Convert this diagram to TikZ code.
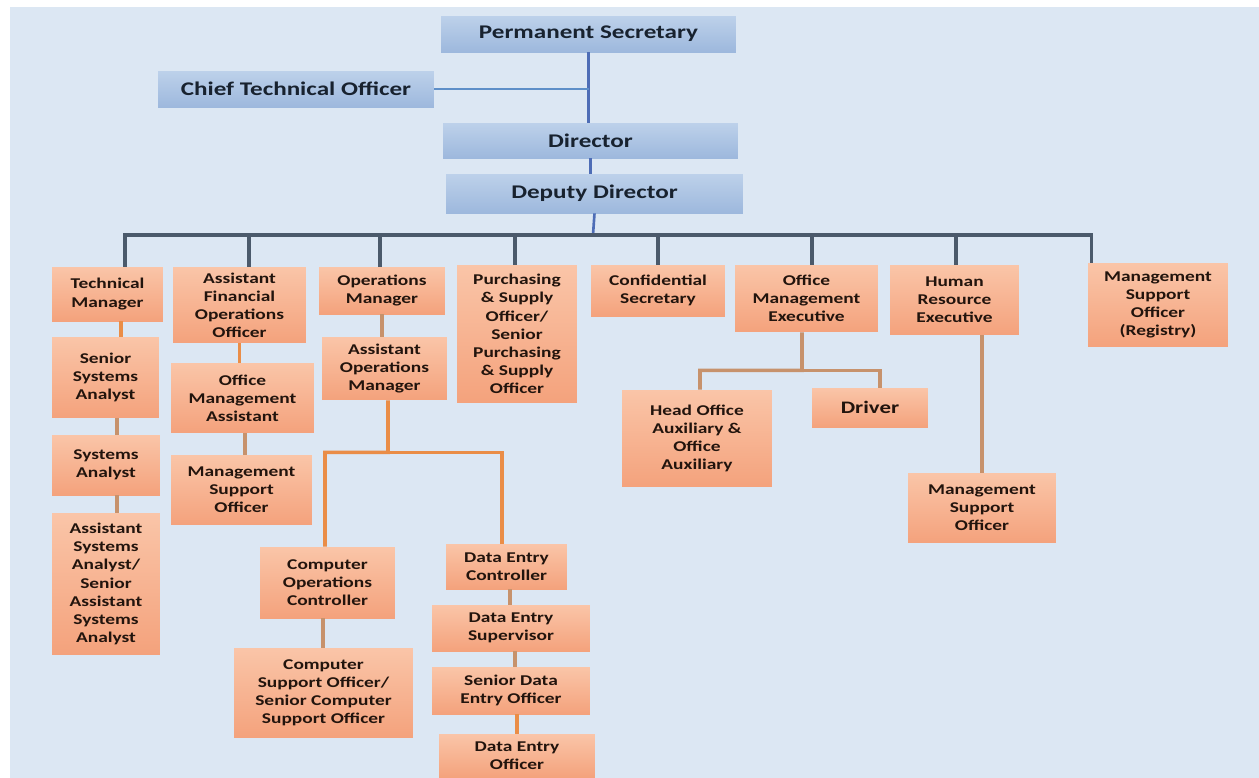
\documentclass[tikz,border=0pt]{standalone}
\usepackage{fontspec}
\setmainfont{Carlito}[FakeStretch=1.3]
\usetikzlibrary{positioning, calc}

\definecolor{bgblue}{HTML}{DCE7F3}
\definecolor{bluetop}{HTML}{BDD1EA}
\definecolor{bluebot}{HTML}{9DB8DD}
\definecolor{bluetxt}{HTML}{18222F}
\definecolor{orgtop}{HTML}{FAC5A8}
\definecolor{orgbot}{HTML}{F4A27C}
\definecolor{orgtxt}{HTML}{22140D}
\definecolor{lineblue}{HTML}{4E6DB6}
\definecolor{linesky}{HTML}{5E8FC8}
\definecolor{busgray}{HTML}{4B5A6B}
\definecolor{lineorange}{HTML}{EA8D47}
\definecolor{linetan}{HTML}{C7926C}

\begin{document}
\begin{tikzpicture}[
    x=0.02cm, y=-0.02cm,
    sz/.style 2 args={minimum width=#1cm, minimum height=#2cm},
    bbox/.style={top color=bluetop, bottom color=bluebot, text=bluetxt, inner sep=0pt,
        font=\fontsize{11}{13}\selectfont\bfseries},
    obox/.style={top color=orgtop, bottom color=orgbot, text=orgtxt, inner sep=0pt,
        align=center, font=\fontsize{8.5}{10.3}\selectfont\bfseries},
    topline/.style={draw=lineblue, line width=1.5pt},
    ctoline/.style={draw=linesky, line width=1.2pt},
    busline/.style={draw=busgray, line width=1.9pt},
    orline/.style={draw=lineorange, line width=2pt},
    tanline/.style={draw=linetan, line width=2pt}
]
\useasboundingbox (0,0) rectangle (1259,778);

% -- background --------------------------------------------------
\fill[white] (0,0) rectangle (1259,778);
\fill[bgblue] (10,7) rectangle (1259,778);

% -- top of the chart --------------------------------------------
\node[bbox, sz={5.9}{0.72}]  (ps)  at (588.5,34)  {Permanent Secretary};
\node[bbox, sz={5.52}{0.72}] (cto) at (296,89)    {Chief Technical Officer};
\node[bbox, sz={5.9}{0.70}]  (dir) at (590.5,140.5) {Director};
\node[bbox, sz={5.94}{0.78}] (dd)  at (594.5,193.5) {Deputy Director};

% -- second row ----------------------------------------------------
\node[obox, sz={2.22}{1.08}] (tm)   at (107.5,294) {Technical\\Manager};
\node[obox, sz={2.66}{1.52}] (afoo) at (239.5,305) {Assistant\\Financial\\Operations\\Officer};
\node[obox, sz={2.52}{0.94}] (opm)  at (382,290.5) {Operations\\Manager};
\node[obox, sz={2.4}{2.76}]  (psso) at (517,334)   {Purchasing\\\& Supply\\Officer/\\Senior\\Purchasing\\\& Supply\\Officer};
\node[obox, sz={2.68}{1.02}] (cs)   at (658,290.5) {Confidential\\Secretary};
\node[obox, sz={2.86}{1.34}] (ome)  at (806.5,298.5) {Office\\Management\\Executive};
\node[obox, sz={2.58}{1.40}] (hre)  at (954.5,300) {Human\\Resource\\Executive};
\node[obox, sz={2.8}{1.68}]  (msor) at (1158,305)  {Management\\Support\\Officer\\(Registry)};

% -- technical column ----------------------------------------------
\node[obox, sz={2.14}{1.62}] (ssa) at (105.5,377.5) {Senior\\Systems\\Analyst};
\node[obox, sz={2.16}{1.2}]  (sa)  at (106,465)     {Systems\\Analyst};
\node[obox, sz={2.16}{2.84}] (asa) at (106,584)     {Assistant\\Systems\\Analyst/\\Senior\\Assistant\\Systems\\Analyst};

% -- finance column ------------------------------------------------
\node[obox, sz={2.86}{1.4}] (oma)  at (242.5,398) {Office\\Management\\Assistant};
\node[obox, sz={2.82}{1.4}] (mso1) at (241.5,490) {Management\\Support\\Officer};

% -- operations column ---------------------------------------------
\node[obox, sz={2.5}{1.26}]  (aom)  at (384.5,368.5) {Assistant\\Operations\\Manager};
\node[obox, sz={2.7}{1.42}]  (coc)  at (327.5,582.5) {Computer\\Operations\\Controller};
\node[obox, sz={3.58}{1.8}]  (cso)  at (323.5,693)   {Computer\\Support Officer/\\Senior Computer\\Support Officer};
\node[obox, sz={2.42}{0.9}]  (dec)  at (506.5,566.5) {Data Entry\\Controller};
\node[obox, sz={3.16}{0.92}] (des)  at (511,628)     {Data Entry\\Supervisor};
\node[obox, sz={3.16}{0.94}] (sdeo) at (511,690.5)   {Senior Data\\Entry Officer};
\node[obox, sz={3.12}{0.88}] (deo)  at (517,756)     {Data Entry\\Officer};

% -- office management and HR --------------------------------------
\node[obox, sz={3.0}{1.94}] (hoa)  at (697,438.5) {Head Office\\Auxiliary \&\\Office\\Auxiliary};
\node[obox, sz={2.32}{0.78}, font=\fontsize{10}{12}\selectfont\bfseries] (drv) at (870,407.5) {Driver};
\node[obox, sz={2.96}{1.4}] (mso2) at (982,508)   {Management\\Support\\Officer};

% -- top connectors ------------------------------------------------
\draw[topline] (ps.south) -- (ps.south |- dir.north);
\draw[ctoline] (cto.east) -- (cto.east -| ps.south);
\draw[topline] (dir.south) -- (dir.south |- dd.north);

% -- bus under the deputy director ---------------------------------
\coordinate (bus) at (593,235);
\draw[topline] (dd.south) -- (bus);
\draw[busline] (bus) -| ([xshift=0.35cm]tm.north);
\draw[busline] (bus) -| ([xshift=0.08cm]msor.north west);
\foreach \n/\dx in {afoo/0.19, opm/-0.04, psso/-0.04, cs/0, ome/0.11, hre/0.03}
    \draw[busline] (bus) -| ([xshift=\dx cm]\n.north);

% -- reporting lines -----------------------------------------------
\draw[orline]  ([xshift=0.27cm]tm.south) -- ([xshift=0.27cm]tm.south |- ssa.north);
\draw[tanline] ([xshift=0.23cm]ssa.south) -- ([xshift=0.23cm]ssa.south |- sa.north);
\draw[tanline] ([xshift=0.22cm]sa.south) -- ([xshift=0.22cm]sa.south |- asa.north);
\draw[orline]  (afoo.south) -- (afoo.south |- oma.north);
\draw[tanline] ([xshift=0.05cm]oma.south) -- ([xshift=0.05cm]oma.south |- mso1.north);
\draw[tanline] (opm.south) -- (opm.south |- aom.north);

\coordinate (opsplit) at ($(aom.south)+(3.5,52)$);
\draw[orline] ([xshift=0.07cm]aom.south) -- (opsplit) -| ([xshift=-0.05cm]coc.north);
\draw[orline] (opsplit) -| ([xshift=-0.09cm]dec.north);
\draw[tanline] ([xshift=-0.09cm]coc.south) -- ([xshift=-0.09cm]coc.south |- cso.north);
\draw[tanline] ([xshift=0.07cm]dec.south) -- ([xshift=0.07cm]dec.south |- des.north);
\draw[tanline] ([xshift=0.08cm]des.south) -- ([xshift=0.08cm]des.south |- sdeo.north);
\draw[orline]  ([xshift=0.12cm]sdeo.south) -- ([xshift=0.12cm]sdeo.south |- deo.north);

\coordinate (omesplit) at ($(ome.south)+(-4.5,38)$);
\draw[tanline] ([xshift=-0.09cm]ome.south) -- (omesplit) -| ([xshift=0.06cm]hoa.north);
\draw[tanline] (omesplit) -| ([xshift=0.2cm]drv.north);
\draw[tanline] (mso2.north) -- (mso2.north |- hre.south);

\end{tikzpicture}
\end{document}
